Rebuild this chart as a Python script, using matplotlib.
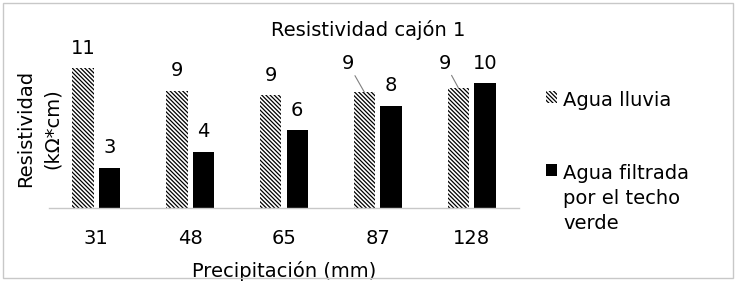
import matplotlib
matplotlib.use('Agg')
import matplotlib.pyplot as plt
import numpy as np
from matplotlib.patches import Rectangle

# values (labels shown rounded)
categories = ['31', '48', '65', '87', '128']
agua_lluvia = [10.85, 9.11, 8.77, 8.98, 9.34]
agua_filtrada = [3.11, 4.36, 6.05, 7.94, 9.68]
series_names = ['Agua lluvia', 'Agua filtrada\npor el techo\nverde']

plt.rcParams['font.family'] = 'DejaVu Sans'
plt.rcParams['font.size'] = 14
plt.rcParams['hatch.linewidth'] = 0.9

fig = plt.figure(figsize=(7.36, 2.84), dpi=100)
ax = fig.add_axes([0.0671, 0.2687, 0.6375, 0.565])

x = np.arange(len(categories))
w = 0.23
off = 0.142
b1 = ax.bar(x - off, agua_lluvia, w, facecolor='white', edgecolor='black',
            linewidth=0, hatch='\\' * 8, label=series_names[0])
b2 = ax.bar(x + off, agua_filtrada, w, color='black', label=series_names[1])

ax.set_xlim(-0.5, len(categories) - 0.5)
ax.set_ylim(0, 12.5)
ax.set_xticks(x)
ax.set_xticklabels(categories)
ax.set_yticks([])
ax.tick_params(axis='x', length=0, pad=15)
for s in ['top', 'right', 'left']:
    ax.spines[s].set_visible(False)
ax.spines['bottom'].set_color('#c8c8c8')
ax.spines['bottom'].set_linewidth(1.0)
ax.set_xlabel('Precipitación (mm)', labelpad=10)

# data labels; last two hatched labels pushed aside with leader lines
for i, v in enumerate(agua_lluvia):
    if i >= 3:
        dx, dy = (-11.9, 20.9) if i == 3 else (-9.7, 17.8)
        ax.annotate(f'{v:.0f}', xy=(x[i] - off, v), xytext=(dx, dy),
                    textcoords='offset points', ha='center', va='center',
                    arrowprops=dict(arrowstyle='-', color='#808080', lw=0.8,
                                    shrinkA=0, shrinkB=0))
    else:
        ax.annotate(f'{v:.0f}', xy=(x[i] - off, v), xytext=(0, 14.4),
                    textcoords='offset points', ha='center', va='center')
for i, v in enumerate(agua_filtrada):
    ax.annotate(f'{v:.0f}', xy=(x[i] + off, v), xytext=(0, 14.4),
                textcoords='offset points', ha='center', va='center')

fig.suptitle('Resistividad cajón 1', x=0.5, y=0.93, fontsize=14)
fig.text(0.053, 0.546, 'Resistividad\n(kΩ*cm)', rotation=90, ha='center',
         va='center', multialignment='center', linespacing=1.55)

leg = fig.legend(handles=[b1, b2], loc='upper left', bbox_to_anchor=(0.742, 0.679),
                 frameon=False, handlelength=0.57, handleheight=0.57,
                 handletextpad=0.31, labelspacing=2.75, borderpad=0,
                 borderaxespad=0)
for t in leg.get_texts():
    t.set_linespacing(1.4)
# put the marker next to the first line of a multi-line label
try:
    for col in leg._legend_handle_box.get_children():
        for row in col.get_children():
            row.align = 'top'
except AttributeError:
    pass

fig.patches.append(Rectangle((2.5 / 736, 6.5 / 284), 730.5 / 736, 275 / 284,
                             transform=fig.transFigure, fill=False,
                             edgecolor='#c8c8c8', linewidth=1.0))

fig.savefig('out.png', dpi=100)
